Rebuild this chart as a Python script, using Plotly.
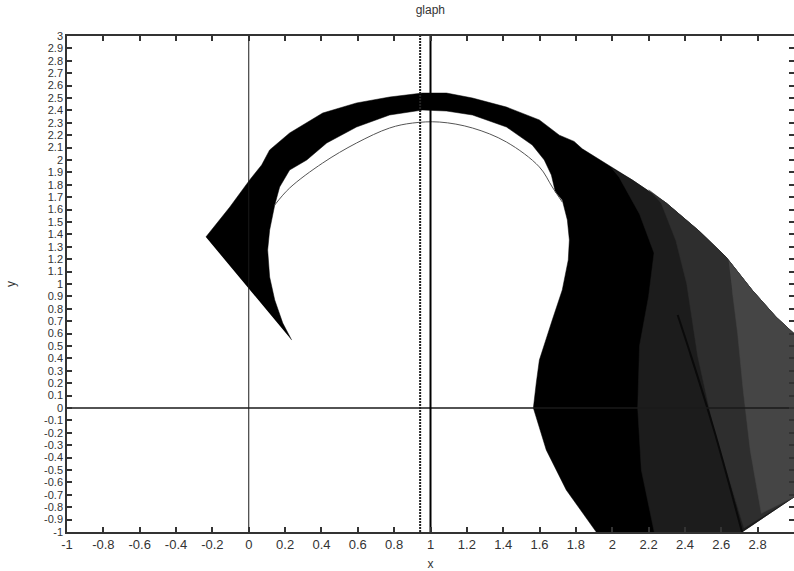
import plotly.graph_objects as go

# ---- data (data coordinates) ----
# main black filled region (outline, clockwise from left tip)
shape_x = [-0.236, -0.104, 0.005, 0.071, 0.115, 0.225, 0.407, 0.593, 0.775, 0.956,
           1.088, 1.231, 1.418, 1.599, 1.709, 1.790, 1.835, 2.110, 2.297, 2.478,
           2.626, 2.769, 2.901, 3.0, 3.0, 2.714, 1.912, 1.747, 1.637, 1.582,
           1.566, 1.582, 1.599, 1.670, 1.725, 1.758, 1.764, 1.753, 1.725, 1.687,
           1.665, 1.626, 1.560, 1.418, 1.231, 1.088, 0.956, 0.775, 0.593, 0.429,
           0.319, 0.225, 0.170, 0.143, 0.115, 0.104, 0.115, 0.143, 0.187, 0.236]
shape_y = [1.379, 1.621, 1.839, 1.960, 2.081, 2.218, 2.379, 2.460, 2.508, 2.540,
           2.540, 2.500, 2.427, 2.323, 2.200, 2.150, 2.090, 1.839, 1.653, 1.427,
           1.218, 0.952, 0.734, 0.600, -0.718, -1.0, -1.0, -0.661, -0.339, -0.073,
           0.0, 0.202, 0.387, 0.710, 0.952, 1.194, 1.355, 1.516, 1.677, 1.742,
           1.879, 2.000, 2.121, 2.266, 2.363, 2.395, 2.403, 2.363, 2.266, 2.137,
           2.000, 1.919, 1.782, 1.637, 1.435, 1.274, 1.056, 0.871, 0.685, 0.548]

# dark textured zone (lines thinning out)
tex1_x = [1.995, 2.110, 2.297, 2.478, 2.626, 2.769, 2.901, 3.0, 3.0, 2.714,
          2.231, 2.160, 2.140, 2.150, 2.200, 2.230, 2.150, 2.040]
tex1_y = [1.935, 1.839, 1.653, 1.427, 1.218, 0.952, 0.734, 0.600, -0.718, -1.0,
          -1.0, -0.500, 0.0, 0.500, 0.900, 1.250, 1.565, 1.855]

# grey zone along the outer edge / right of the crease
tex2_x = [2.200, 2.297, 2.478, 2.626, 2.769, 2.901, 3.0, 3.0, 2.725, 2.560,
          2.470, 2.440, 2.410, 2.350, 2.270]
tex2_y = [1.760, 1.653, 1.427, 1.218, 0.952, 0.734, 0.600, -0.718, -0.968, -0.178,
          0.420, 0.700, 1.000, 1.350, 1.650]

# lighter zone at the far right
tex3_x = [2.640, 2.769, 2.901, 3.0, 3.0, 2.820, 2.760, 2.720, 2.690, 2.660]
tex3_y = [1.190, 0.952, 0.734, 0.600, -0.718, -0.850, -0.350, 0.150, 0.600, 0.950]

# crease line inside the dark zone
crease_x = [2.714, 2.560, 2.423, 2.360]
crease_y = [-1.0, -0.178, 0.468, 0.750]

# thin inner arc
arc_x = [0.143, 0.225, 0.407, 0.593, 0.775, 0.901, 1.050, 1.231, 1.418, 1.599, 1.670, 1.725]
arc_y = [1.637, 1.774, 1.976, 2.137, 2.258, 2.298, 2.306, 2.258, 2.145, 1.944, 1.782, 1.661]

# reference lines
vline_solid_x = 1.0
vline_dot_x = 0.943
axis_range = [-1, 3]

x_tick_vals = [-1, -0.8, -0.6, -0.4, -0.2, 0, 0.2, 0.4, 0.6, 0.8, 1, 1.2, 1.4, 1.6,
               1.8, 2, 2.2, 2.4, 2.6, 2.8, 3]
x_tick_text = ["-1", "-0.8", "-0.6", "-0.4", "-0.2", "0", "0.2", "0.4", "0.6", "0.8",
               "1", "1.2", "1.4", "1.6", "1.8", "2", "2.2", "2.4", "2.6", "2.8", "3"]
y_tick_vals = [-1, -0.9, -0.8, -0.7, -0.6, -0.5, -0.4, -0.3, -0.2, -0.1, 0, 0.1, 0.2,
               0.3, 0.4, 0.5, 0.6, 0.7, 0.8, 0.9, 1, 1.1, 1.2, 1.3, 1.4, 1.5, 1.6,
               1.7, 1.8, 1.9, 2, 2.1, 2.2, 2.3, 2.4, 2.5, 2.6, 2.7, 2.8, 2.9, 3]
y_tick_text = ["-1", "-0.9", "-0.8", "-0.7", "-0.6", "-0.5", "-0.4", "-0.3", "-0.2",
               "-0.1", "0", "0.1", "0.2", "0.3", "0.4", "0.5", "0.6", "0.7", "0.8",
               "0.9", "1", "1.1", "1.2", "1.3", "1.4", "1.5", "1.6", "1.7", "1.8",
               "1.9", "2", "2.1", "2.2", "2.3", "2.4", "2.5", "2.6", "2.7", "2.8",
               "2.9", "3"]

FONT = "Liberation Sans, Arial, sans-serif"

fig = go.Figure()

def add_fill(xs, ys, color):
    fig.add_trace(go.Scatter(x=xs, y=ys, fill="toself", fillcolor=color,
                             mode="lines", line=dict(width=0.5, color=color),
                             hoverinfo="skip", showlegend=False))

add_fill(shape_x, shape_y, "#000000")
add_fill(tex1_x, tex1_y, "#1c1c1c")
add_fill(tex2_x, tex2_y, "#2e2e2e")
add_fill(tex3_x, tex3_y, "#454545")

fig.add_trace(go.Scatter(x=crease_x, y=crease_y, mode="lines",
                         line=dict(width=2, color="#0a0a0a", shape="spline"),
                         hoverinfo="skip", showlegend=False))
fig.add_trace(go.Scatter(x=arc_x, y=arc_y, mode="lines",
                         line=dict(width=1, color="#555555", shape="spline"),
                         hoverinfo="skip", showlegend=False))

# axes through origin and vertical markers
fig.add_trace(go.Scatter(x=axis_range, y=[0, 0], mode="lines",
                         line=dict(width=1.5, color="#1a1a1a"), hoverinfo="skip",
                         showlegend=False))
fig.add_trace(go.Scatter(x=[0, 0], y=axis_range, mode="lines",
                         line=dict(width=1, color="#1a1a1a"), hoverinfo="skip",
                         showlegend=False))
fig.add_trace(go.Scatter(x=[vline_solid_x, vline_solid_x], y=axis_range, mode="lines",
                         line=dict(width=2, color="#000000"), hoverinfo="skip",
                         showlegend=False))
fig.add_trace(go.Scatter(x=[vline_dot_x, vline_dot_x], y=axis_range, mode="lines",
                         line=dict(width=2, color="#222222", dash="2px,1px"),
                         hoverinfo="skip", showlegend=False))

axis_common = dict(range=axis_range, showgrid=False, zeroline=False, showline=True,
                   linecolor="#333333", linewidth=1.5, mirror="ticks",
                   ticks="inside", ticklen=5, tickwidth=1.5, tickcolor="#333333",
                   automargin=False)

fig.update_layout(
    width=794, height=571,
    margin=dict(l=67, r=0, t=36, b=39),
    paper_bgcolor="white", plot_bgcolor="white",
    title=dict(text="glaph", x=0.542, xanchor="center", y=0.982, yanchor="middle",
               font=dict(family=FONT, size=12, color="#333333")),
    xaxis=dict(tickvals=x_tick_vals, ticktext=x_tick_text,
               tickfont=dict(family=FONT, size=13, color="#333333"),
               title=dict(text="x", standoff=8,
                          font=dict(family=FONT, size=12, color="#333333")),
               **axis_common),
    yaxis=dict(tickvals=y_tick_vals, ticktext=y_tick_text,
               tickfont=dict(family=FONT, size=11, color="#333333"),
               title=dict(text="y", standoff=26,
                          font=dict(family=FONT, size=12, color="#333333")),
               **axis_common),
    showlegend=False,
)

fig.write_html("out.html", config={"displayModeBar": False},
               post_script="document.body.style.margin='0';document.body.style.overflow='hidden';")
